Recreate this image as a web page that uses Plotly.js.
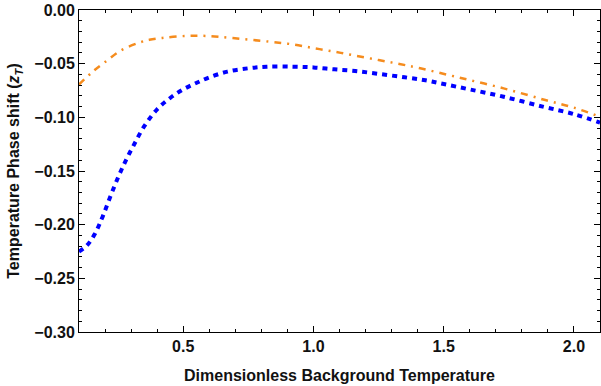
<!DOCTYPE html>
<html>
<head>
<meta charset="utf-8">
<script src="https://cdn.plot.ly/plotly-3.0.1.min.js"></script>
<style>html,body{margin:0;padding:0;background:#fff;}#chart{width:601px;height:386px;}</style>
</head>
<body>
<div id="chart"></div>
<script>
// Blue dotted series
const blueX = [0.10, 0.13, 0.16, 0.19, 0.22, 0.25, 0.28, 0.31, 0.35, 0.40, 0.45, 0.50, 0.55, 0.60, 0.67, 0.75, 0.82, 0.92, 1.00, 1.08, 1.16, 1.25, 1.35, 1.43, 1.50, 1.60, 1.73, 1.88, 2.00, 2.10];
const blueY = [-0.225, -0.2195, -0.209, -0.193, -0.174, -0.156, -0.140, -0.126, -0.1085, -0.0925, -0.082, -0.074, -0.068, -0.0628, -0.0574, -0.0543, -0.0528, -0.0528, -0.0535, -0.0553, -0.0568, -0.0595, -0.0627, -0.0655, -0.069, -0.074, -0.0808, -0.090, -0.097, -0.105];
// Orange dash-dot series
const orangeX = [0.10, 0.15, 0.20, 0.26, 0.33, 0.37, 0.42, 0.51, 0.59, 0.69, 0.83, 0.92, 1.00, 1.08, 1.16, 1.25, 1.33, 1.41, 1.56, 1.73, 1.89, 2.00, 2.10];
const orangeY = [-0.0695, -0.058, -0.0485, -0.0378, -0.0305, -0.0278, -0.026, -0.0242, -0.0242, -0.0262, -0.0295, -0.032, -0.0355, -0.0388, -0.0425, -0.0466, -0.0503, -0.0543, -0.063, -0.073, -0.0839, -0.091, -0.0995];
// Axis ticks
const xTicks = [0.5, 1.0, 1.5, 2.0];
const yTicks = [0.00, -0.05, -0.10, -0.15, -0.20, -0.25, -0.30];

const fontFam = 'Liberation Sans, Arial, sans-serif';

const traces = [
  {x: orangeX, y: orangeY, mode: 'lines', line: {color: 'rgb(245,140,30)', width: 2.5, dash: '7px,6px,2px,6px', shape: 'spline', smoothing: 1}, hoverinfo: 'skip'},
  {x: blueX, y: blueY, mode: 'lines', line: {color: '#0000ff', width: 4, dash: '5px,5px', shape: 'spline', smoothing: 1}, hoverinfo: 'skip'}
];

const axisCommon = {
  showgrid: false, zeroline: false, showline: true, linecolor: '#000', linewidth: 1,
  mirror: 'allticks', ticks: 'inside', ticklen: 6, tickcolor: '#000', tickwidth: 1,
  tickfont: {family: fontFam, size: 16, color: '#111', weight: 'bold'}
};

const layout = {
  width: 601, height: 386,
  margin: {l: 79, r: 1, t: 10, b: 54},
  paper_bgcolor: '#fff', plot_bgcolor: '#fff',
  showlegend: false,
  xaxis: Object.assign({}, axisCommon, {
    range: [0.1, 2.1], tickvals: xTicks, tickformat: '.1f',
    minor: {dtick: 0.1, tick0: 0, ticks: 'inside', ticklen: 3, tickcolor: '#000'},
    title: {text: '<b>Dimensionless Background Temperature</b>', font: {family: fontFam, size: 16, color: '#111'}, standoff: 15}
  }),
  yaxis: Object.assign({}, axisCommon, {
    range: [-0.30, 0.0], tickvals: yTicks, tickformat: '.2f',
    minor: {dtick: 0.01, tick0: 0, ticks: 'inside', ticklen: 3, tickcolor: '#000'},
    title: {text: '<b>Temperature Phase shift (<i>z</i><sub><i>T</i></sub>)</b>', font: {family: fontFam, size: 16, color: '#111'}, standoff: 10}
  })
};

Plotly.newPlot('chart', traces, layout, {staticPlot: true, displayModeBar: false});
</script>
</body>
</html>
